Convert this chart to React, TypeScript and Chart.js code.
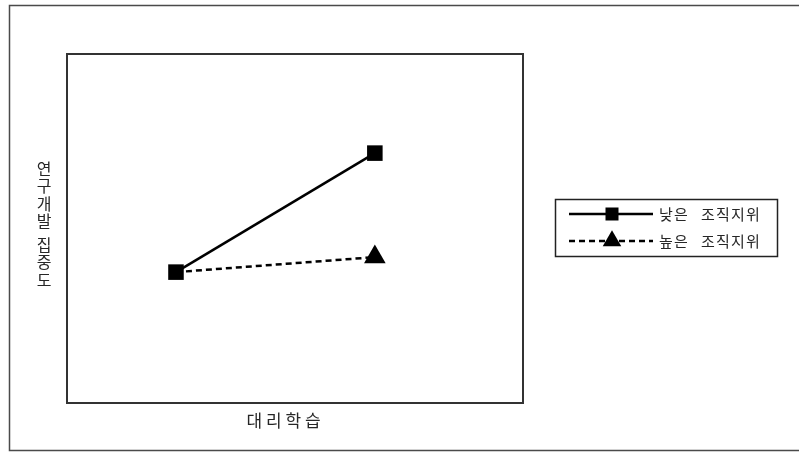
import { useEffect, useRef } from 'react';
import { Chart, registerables } from 'chart.js';

Chart.register(...registerables);

// Categories of the x axis (vicarious learning: low / high)
const categories = ['낮은 대리학습', '높은 대리학습'];
const xPositions = [1, 2];
// Series values (R&D intensity)
const lowStatusValues = [3.75, 7.16];
const highStatusValues = [3.75, 4.18];
const seriesLabels = ['낮은 조직지위', '높은 조직지위'];
const yAxisTitle = '연구개발 집중도';
const xAxisTitle = '대리학습';

const TEXT_COLOR = '#262626';
const FONT = '"Noto Sans CJK KR", "Noto Sans", sans-serif';

function drawMarker(ctx: CanvasRenderingContext2D, style: string, x: number, y: number, r: number) {
  ctx.beginPath();
  if (style === 'triangle') {
    let rad = 0;
    ctx.moveTo(x + Math.sin(rad) * r, y - Math.cos(rad) * r);
    rad += (2 * Math.PI) / 3;
    ctx.lineTo(x + Math.sin(rad) * r, y - Math.cos(rad) * r);
    rad += (2 * Math.PI) / 3;
    ctx.lineTo(x + Math.sin(rad) * r, y - Math.cos(rad) * r);
    ctx.closePath();
  } else {
    const s = r * Math.SQRT1_2;
    ctx.rect(x - s, y - s, 2 * s, 2 * s);
  }
  ctx.fill();
}

function drawSpaced(ctx: CanvasRenderingContext2D, text: string, x: number, y: number, pitch: number, spacePitch: number) {
  let cx = x;
  for (const ch of text) {
    if (ch === ' ') {
      cx += spacePitch;
      continue;
    }
    ctx.fillText(ch, cx, y);
    cx += pitch;
  }
}

const decorPlugin = {
  id: 'decor',
  beforeDraw(chart: any) {
    const { ctx, width, height } = chart;
    ctx.save();
    ctx.fillStyle = '#ffffff';
    ctx.fillRect(0, 0, width, height);
    ctx.restore();
  },
  beforeDatasetsDraw(chart: any) {
    const { ctx, chartArea: a } = chart;
    ctx.save();
    // outer frame
    ctx.strokeStyle = '#4a4a4a';
    ctx.lineWidth = 1.5;
    ctx.beginPath();
    ctx.moveTo(805, 5.5);
    ctx.lineTo(9.5, 5.5);
    ctx.lineTo(9.5, 450.5);
    ctx.lineTo(805, 450.5);
    ctx.stroke();
    // plot frame
    ctx.strokeStyle = '#333333';
    ctx.lineWidth = 2;
    ctx.strokeRect(a.left, a.top, a.width, a.height);

    // y axis title, stacked characters
    ctx.fillStyle = TEXT_COLOR;
    ctx.font = `16px ${FONT}`;
    ctx.textAlign = 'center';
    ctx.textBaseline = 'middle';
    let cy = 168.5;
    for (const ch of yAxisTitle) {
      if (ch === ' ') {
        cy += 6;
        continue;
      }
      ctx.fillText(ch, 44, cy);
      cy += 17.5;
    }

    // x axis title
    ctx.font = `17px ${FONT}`;
    const xt = Array.from(xAxisTitle);
    const pitch = 19.5;
    const cx0 = 283.5 - ((xt.length - 1) * pitch) / 2;
    xt.forEach((ch, i) => ctx.fillText(ch, cx0 + i * pitch, 421));
    ctx.restore();
  },
  afterDraw(chart: any) {
    const { ctx } = chart;
    ctx.save();
    // legend box
    ctx.strokeStyle = '#222222';
    ctx.lineWidth = 1.5;
    ctx.strokeRect(555.5, 199.5, 222, 57);
    const rows = [214, 241];
    chart.data.datasets.forEach((ds: any, i: number) => {
      const y = rows[i];
      ctx.strokeStyle = ds.borderColor;
      ctx.lineWidth = ds.borderWidth;
      ctx.setLineDash(ds.borderDash || []);
      ctx.beginPath();
      ctx.moveTo(569, y);
      ctx.lineTo(653, y);
      ctx.stroke();
      ctx.setLineDash([]);
      ctx.fillStyle = ds.backgroundColor;
      drawMarker(ctx, ds.pointStyle, 612, y, ds.pointStyle === 'triangle' ? 10.7 : 9.2);
      ctx.fillStyle = TEXT_COLOR;
      ctx.font = `15px ${FONT}`;
      ctx.textAlign = 'left';
      ctx.textBaseline = 'middle';
      drawSpaced(ctx, ds.label, 659, y + 0.5, 15, 12);
    });
    ctx.restore();
  },
};

export default function App() {
  const ref = useRef<HTMLCanvasElement | null>(null);

  useEffect(() => {
    if (!ref.current) return;
    const chart = new Chart(ref.current, {
      type: 'line',
      data: {
        labels: categories,
        datasets: [
          {
            label: seriesLabels[0],
            data: xPositions.map((x, i) => ({ x, y: lowStatusValues[i] })),
            borderColor: '#000000',
            backgroundColor: '#000000',
            borderWidth: 2.5,
            pointStyle: 'rect',
            pointRadius: 11,
            pointBorderWidth: 0,
            tension: 0,
            order: 1,
          },
          {
            label: seriesLabels[1],
            data: xPositions.map((x, i) => ({ x, y: highStatusValues[i] })),
            borderColor: '#000000',
            backgroundColor: '#000000',
            borderWidth: 2.5,
            borderDash: [6, 4],
            pointStyle: 'triangle',
            pointRadius: [0, 12.5],
            pointBorderWidth: 0,
            tension: 0,
            order: 2,
          },
        ],
      },
      options: {
        responsive: false,
        animation: false,
        events: [],
        layout: { padding: { left: 67, top: 54, right: 276, bottom: 49 } },
        scales: {
          x: { type: 'linear', min: 0.452, max: 2.745, display: false },
          y: { type: 'linear', min: 0, max: 10, display: false },
        },
        plugins: {
          legend: { display: false },
          tooltip: { enabled: false },
        },
      },
      plugins: [decorPlugin],
    });
    return () => chart.destroy();
  }, []);

  return (
    <div style={{ position: 'absolute', left: 0, top: 0, width: 799, height: 452 }}>
      <canvas ref={ref} width={799} height={452} style={{ width: 799, height: 452, display: 'block' }} />
    </div>
  );
}
